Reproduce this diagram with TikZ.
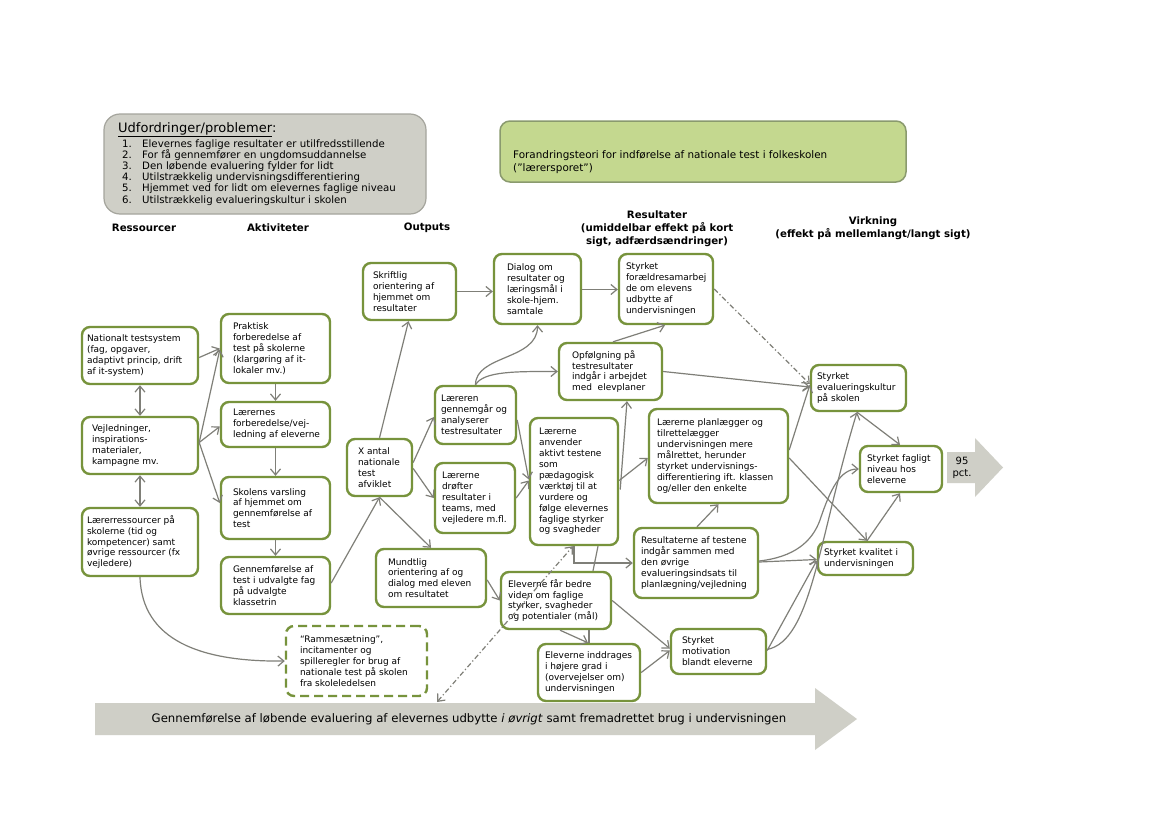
\documentclass[tikz,border=0pt]{standalone}
\usepackage{fontspec}
\setmainfont{DejaVu Sans}
\usetikzlibrary{arrows.meta,calc}
\definecolor{nodegreen}{HTML}{77933C}
\definecolor{arrgray}{HTML}{7F7F78}
\definecolor{boxgray}{HTML}{CFCFC7}
\definecolor{hdrborder}{HTML}{A5A59D}
\definecolor{titlegreen}{HTML}{C4D88F}
\definecolor{titleborder}{HTML}{8A9A6E}
\newcommand\mybox[8][]{%
  \node[box,#1,minimum width={(#5-#3-2)*1pt},minimum height={(#6-#4-2)*1pt}] (#2) at ({(#3+#5)/2},{(#4+#6)/2}) {};
  \node[txt] (#2-t) at ($(#2.west)+(#7,0)$) {#8};
}
\begin{document}
\begin{tikzpicture}[x=1pt,y=-1pt,
  >={Straight Barb[length=6pt,width=10pt]},
  box/.style={draw=nodegreen,line width=2.4pt,rounded corners=8pt,fill=white,inner sep=0pt},
  rsdash/.style={dash pattern=on 9pt off 5pt},
  txt/.style={anchor=west,inner sep=0pt,align=left,font=\fontsize{9}{10.9}\selectfont},
  arr/.style={draw=arrgray,line width=1.2pt},
  dd/.style={dash pattern=on 5pt off 2.5pt on 1.2pt off 2.5pt},
  hd/.style={font=\bfseries\fontsize{10.2}{13}\selectfont,align=center,inner sep=0pt},
  lst/.style={anchor=base west,inner sep=0pt,font=\fontsize{10.2}{11.2}\selectfont}]
\path[use as bounding box,fill=white] (0,0) rectangle (1169,827);

% challenges box
\node[draw=hdrborder,fill=boxgray,line width=1.2pt,rounded corners=16pt,minimum width=322pt,minimum height=100pt,inner sep=0pt] (udf) at (265,164) {};
\node[anchor=base west,inner sep=0pt,font=\fontsize{13}{15}\selectfont] (udf-h) at (118,132) {\underline{Udfordringer/problemer}:};
\foreach \t [count=\k] in {Elevernes faglige resultater er utilfredsstillende,For få gennemfører en ungdomsuddannelse,Den løbende evaluering fylder for lidt,Utilstrækkelig undervisningsdifferentiering,Hjemmet ved for lidt om elevernes faglige niveau,Utilstrækkelig evalueringskultur i skolen}{
  \node[lst] (udf-n\k) at (122,{135.8+11.2*\k}) {\k.};
  \node[lst] (udf-i\k) at (142,{135.8+11.2*\k}) {\t};
}

% title box
\node[draw=titleborder,fill=titlegreen,line width=1.5pt,rounded corners=10pt,minimum width=406pt,minimum height=61pt,inner sep=0pt] (title) at (703,151.5) {};
\node[anchor=base west,inner sep=0pt,font=\fontsize{10.4}{13}\selectfont] (title-t1) at (513,158.5) {Forandringsteori for indførelse af nationale test i folkeskolen};
\node[anchor=base west,inner sep=0pt,font=\fontsize{10.4}{13}\selectfont] (title-t2) at (513,171.5) {(”lærersporet”)};

% column headers
\node[hd] (h-res) at (144,228) {Ressourcer};
\node[hd] (h-akt) at (278,228) {Aktiviteter};
\node[hd] (h-out) at (427,228) {Outputs};
\node[hd] (h-resu) at (657,229) {Resultater\\(umiddelbar effekt på kort\\sigt, adfærdsændringer)};
\node[hd] (h-virk) at (873,228.5) {Virkning\\(effekt på mellemlangt/langt sigt)};

% bottom arrow
\fill[boxgray] (95,703) -- (815,703) -- (815,688) -- (857,719) -- (815,750) -- (815,735) -- (95,735) -- cycle;
\node[font=\fontsize{11.7}{13}\selectfont,inner sep=0pt] (bar-t) at (469,719) {Gennemførelse af løbende evaluering af elevernes udbytte \textit{i øvrigt} samt fremadrettet brug i undervisningen};
\coordinate (bar-c) at (437,702);

% 95 pct arrow
\fill[boxgray] (947,452) -- (975,452) -- (975,438) -- (1003,467.5) -- (975,497) -- (975,483) -- (947,483) -- cycle;
\node[font=\fontsize{10}{12}\selectfont,align=center,inner sep=0pt] (pct) at (962,468) {95\\pct.};

% boxes
\mybox{nt}{81}{326}{199}{385}{6}{Nationalt testsystem\\(fag, opgaver,\\adaptivt princip, drift\\af it-system)}
\mybox{vj}{81}{416}{199}{475}{11}{Vejledninger,\\inspirations-\\materialer,\\kampagne mv.}
\mybox{lr}{81}{507}{199}{577}{6}{Lærerressourcer på\\skolerne (tid og\\kompetencer) samt\\øvrige ressourcer (fx\\vejledere)}
\mybox{pf}{220}{313}{331}{384}{13}{Praktisk\\forberedelse af\\test på skolerne\\(klargøring af it-\\lokaler mv.)}
\mybox{lf}{220}{401}{331}{448}{13}{Lærernes\\forberedelse/vej-\\ledning af eleverne}
\mybox{sv}{220}{476}{331}{540}{13}{Skolens varsling\\af hjemmet om\\gennemførelse af\\test}
\mybox{gt}{220}{556}{331}{615}{13}{Gennemførelse af\\test i udvalgte fag\\på udvalgte\\klassetrin}
\mybox{xa}{346}{438}{413}{497}{12}{X antal\\nationale\\test\\afviklet}
\mybox{so}{362}{262}{457}{321}{11}{Skriftlig\\orientering af\\hjemmet om\\resultater}
\mybox{dr}{493}{253}{582}{325}{14}{Dialog om\\resultater og\\læringsmål i\\skole-hjem.\\samtale}
\mybox{sf}{618}{253}{714}{325}{8}{Styrket\\forældresamarbej\\de om elevens\\udbytte af\\undervisningen}
\mybox{op}{558}{342}{663}{401}{14}{Opfølgning på\\testresultater\\indgår i arbejdet\\med~ elevplaner}
\mybox{lg}{434}{385}{517}{445}{7}{Læreren\\gennemgår og\\analyserer\\testresultater}
\mybox{ld}{434}{462}{516}{534}{8}{Lærerne\\drøfter\\resultater i\\teams, med\\vejledere m.fl.}
\mybox{la}{529}{417}{619}{546}{10}{Lærerne\\anvender\\aktivt testene\\som\\pædagogisk\\værktøj til at\\vurdere og\\følge elevernes\\faglige styrker\\og svagheder}
\mybox{mo}{375}{548}{487}{608}{13}{Mundtlig\\orientering af og\\dialog med eleven\\om resultatet}
\mybox{eb}{500}{571}{612}{630}{8}{Eleverne får bedre\\viden om faglige\\styrker, svagheder\\og potentialer (mål)}
\mybox{ei}{537}{643}{641}{702}{8}{Eleverne inddrages\\i højere grad i\\(overvejelser om)\\undervisningen}
\mybox[rsdash]{rs}{285}{625}{428}{697}{15}{“Rammesætning”,\\incitamenter og\\spilleregler for brug af\\nationale test på skolen\\fra skoleledelsen}
\mybox{lp}{648}{408}{789}{504}{9}{Lærerne planlægger og\\tilrettelægger\\undervisningen mere\\målrettet, herunder\\styrket undervisnings-\\differentiering ift. klassen\\og/eller den enkelte}
\mybox{rt}{633}{527}{759}{599}{8}{Resultaterne af testene\\indgår sammen med\\den øvrige\\evalueringsindsats til\\planlægning/vejledning}
\mybox{sm}{670}{628}{767}{675}{12}{Styrket\\motivation\\blandt eleverne}
\mybox{se}{810}{364}{907}{412}{7}{Styrket\\evalueringskultur\\på skolen}
\mybox{sfn}{859}{445}{943}{493}{8}{Styrket fagligt\\niveau hos\\eleverne}
\mybox{sk}{817}{541}{914}{576}{7}{Styrket kvalitet i\\undervisningen}

% connectors
\draw[arr,<->] (nt.south) -- (vj.north);
\draw[arr,<->] (vj.south) -- (lr.north);
\draw[arr,->] ($(nt.east)+(0,2)$) -- (pf.west);
\draw[arr,->] ($(vj.east)+(0,-3)$) -- ($(pf.west)+(0,1)$);
\draw[arr,->] ($(vj.east)+(0,-3)$) -- ($(lf.west)+(0,2)$);
\draw[arr,->] ($(vj.east)+(0,-3)$) -- ($(sv.west)+(0,-5)$);
\draw[arr,->] (pf.south) -- (lf.north);
\draw[arr,->] (lf.south) -- (sv.north);
\draw[arr,->] (sv.south) -- (gt.north);
\draw[arr,->] ($(gt.east)+(0,-2.5)$) -- (xa.south);
\draw[arr,->] (xa.north) -- ($(so.south)+(-1,0)$);
\draw[arr,->] ($(xa.east)+(0,-5)$) -- ($(lg.west)+(0,2)$);
\draw[arr,->] ($(xa.east)+(0,1)$) -- (ld.west);
\draw[arr,->] (xa.south) -- (mo.north);
\draw[arr,->] (so.east) -- (so.east -| dr.west);
\draw[arr,->] ($(dr.east)+(0,0.5)$) -- ($(dr.east -| sf.west)+(0,0.5)$);
\draw[arr,->] (lg.north) .. controls +(0,-30) and +(0,35) .. (dr.south);
\draw[arr,->] (lg.north) .. controls +(8,-14) and +(-40,0) .. (op.west);
\draw[arr,->] ($(lg.east)+(0,5)$) -- ($(la.west)+(0,-2)$);
\draw[arr,->] (ld.east) -- ($(la.west)+(0,-1)$);
\draw[arr,->] ($(la.east)+(1,8)$) -- ($(op.south)+(16.5,0)$);
\draw[arr,->] ($(la.east)+(0,-1)$) -- ($(lp.west)+(0,2)$);
\draw[arr,->] (la.south) |- (rt.west);
\draw[arr] ($(la.south)+(24,0)$) -- ($(eb.north)+(37,0)$);
\draw[arr,dd,<->] (bar-c) -- ($(la.south)+(-1,0)$);
\draw[arr,->] ($(mo.east)+(0,2)$) -- (eb.west);
\draw[arr,->] ($(eb.south)+(4,0)$) -- ($(ei.north)+(-1,0)$);
\draw[arr] ($(eb.south)+(33,0)$) -- ($(eb.south)+(33,13)$);
\draw[arr,->] (eb.east) -- ($(sm.west)+(0,-3)$);
\draw[arr,->] (ei.east) -- ($(sm.west)+(0,-1)$);
\draw[arr,->] ($(rt.north)+(1,0)$) -- (lp.south);
\draw[arr,->] ($(rt.east)+(0,-1)$) -- ($(sk.west)+(0,1)$);
\draw[arr,->] ($(rt.east)+(0,-2)$) .. controls (794,557) and (812,542) .. (820,520) .. controls (830,490) and (840,469) .. (sfn.west);
\draw[arr,->] ($(sm.east)+(0,-1)$) -- ($(sk.west)+(0,2)$);
\draw[arr,->] ($(sm.east)+(0,-2)$) .. controls (812,640) and (818,540) .. ($(se.south)+(-1.5,0)$);
\draw[arr,->] ($(sk.north)+(1.5,0)$) -- ($(sfn.south)+(-1,0)$);
\draw[arr,->] ($(lp.east)+(0,2)$) -- ($(sk.north)+(1.5,0)$);
\draw[arr,->] ($(lp.east)+(0,-6)$) -- ($(se.west)+(0,-3)$);
\draw[arr,->] (op.east) -- ($(se.west)+(0,-1)$);
\draw[arr,->] ($(op.north)+(2.5,0)$) -- ($(sf.south)+(-1,0)$);
\draw[arr,dd,->] (sf.east) -- ($(se.west)+(0,-4)$);
\draw[arr,->] ($(se.south)+(-1.5,0)$) -- ($(sfn.north)+(-1,0)$);
\draw[arr,->] (lr.south) .. controls (142,640) and (200,662) .. (rs.west);
\end{tikzpicture}
\end{document}
